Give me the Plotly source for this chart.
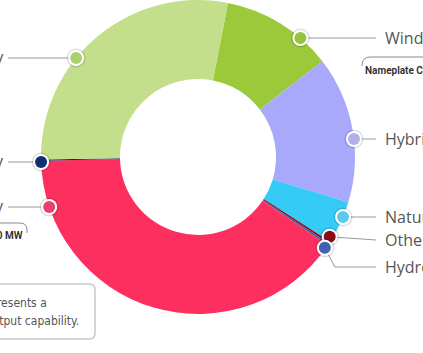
import math
import plotly.graph_objects as go

# ---- data ----
categories = ["Wind", "Hybrid", "Natural Gas", "Other", "Hydro", "Solar Energy", "Bioenergy", "Battery"]
shares = [11.5, 15.1, 4.4, 0.22, 0.22, 40.1, 0.14, 28.3]
slice_colors = ["#9cc93a", "#a9a9fb", "#35cbf6", "#8a0c14", "#3c5faa", "#fd2f5f", "#0b2d66", "#c3df8c"]
dot_colors = ["#92c440", "#b2b0e6", "#5cc9ee", "#8a0c14", "#3f63b2", "#e8416f", "#0d3070", "#a9d16c"]
label_side = ["R", "R", "R", "R", "R", "L", "L", "L"]
label_rows = [38, 139, 217, 240, 267, 207, 162, 58]

W, H = 423, 353
CX, CY, R = 198, 157, 157
ROT = 11

LABEL_FONT = dict(family="Open Sans", size=16, color="#555555")
NARROW = "DejaVu Sans Condensed, sans-serif"

fig = go.Figure()
fig.add_trace(go.Pie(
    labels=categories, values=shares, sort=False, direction="clockwise",
    rotation=ROT, hole=0.497, textinfo="none", hoverinfo="label+percent",
    marker=dict(colors=slice_colors, line=dict(width=0)),
    domain=dict(x=[(CX - R) / W, (CX + R) / W], y=[(H - CY - R) / H, (H - CY + R) / H]),
    showlegend=False,
))

# invisible overlay axes in pixel units
fig.add_trace(go.Scatter(x=[0, W], y=[0, H], mode="markers", marker=dict(opacity=0),
                         hoverinfo="skip", showlegend=False))

total = sum(shares)
cum = 0
shapes = []
annotations = []
LINE = dict(color="#9a9a9a", width=1)
for i, cat in enumerate(categories):
    a0 = ROT + cum / total * 360
    cum += shares[i]
    a1 = ROT + cum / total * 360
    mid = (a0 + a1) / 2
    row = label_rows[i]
    if cat in ("Other", "Hydro"):
        ang = mid + (-1.8 if cat == "Other" else 1.8)
        rr = R - 3 if cat == "Other" else R - 1
        dx = CX + rr * math.sin(math.radians(ang))
        dy = CY - rr * math.cos(math.radians(ang))
    else:
        off = math.sqrt(max(R * R - (row - CY) ** 2, 0))
        dx = CX + off if label_side[i] == "R" else CX - off
        dy = row
    # leader line
    if label_side[i] == "R":
        if cat == "Hydro":
            shapes.append(dict(type="path", xref="x", yref="y",
                               path=f"M{dx},{dy} L{dx + 10},{row} L376,{row}", line=LINE))
        else:
            shapes.append(dict(type="line", xref="x", yref="y", x0=dx, y0=dy, x1=376, y1=row, line=LINE))
        annotations.append(dict(x=383, y=row, xref="x", yref="y", text=cat, showarrow=False,
                                xanchor="left", yanchor="middle", font=LABEL_FONT))
    else:
        shapes.append(dict(type="line", xref="x", yref="y", x0=8, y0=row, x1=dx, y1=dy, line=LINE))
        annotations.append(dict(x=6, y=row - 1, xref="x", yref="y", text=cat, showarrow=False,
                                xanchor="right", yanchor="middle", font=LABEL_FONT))
    # dot: shadow, white ring, colour
    for rad, col in ((9.5, "rgba(0,0,0,0.13)"), (8, "white"), (6, dot_colors[i])):
        shapes.append(dict(type="circle", xref="x", yref="y", x0=dx - rad, x1=dx + rad,
                           y0=dy - rad, y1=dy + rad, fillcolor=col, line=dict(width=0)))

# small boxes / notes
BOX = dict(color="#8a8a8a", width=1)
shapes.append(dict(type="path", xref="x", yref="y", path="M362,66 Q362,57 370,57 L440,57", line=BOX))
annotations.append(dict(x=363, y=70, xref="x", yref="y", text="Nameplate Capacity", showarrow=False,
                        xanchor="left", yanchor="middle",
                        font=dict(family="Roboto", size=10, weight=600, color="#2a2a2a")))
shapes.append(dict(type="path", xref="x", yref="y", path="M-10,223 L20,223 Q27,223 27,230 L27,233", line=BOX))
annotations.append(dict(x=25, y=236, xref="x", yref="y", text="Total: 10,000 MW", showarrow=False,
                        xanchor="right", yanchor="middle",
                        font=dict(family="Roboto", size=10, weight=600, color="#2a2a2a")))
shapes.append(dict(type="path", xref="x", yref="y",
                   path="M-10,284 L89,284 Q95,284 95,290 L95,333 Q95,339 89,339 L-10,339",
                   line=dict(color="#c8c8c8", width=1.5)))
annotations.append(dict(x=49, y=303, xref="x", yref="y", text="Each slice represents a", showarrow=False,
                        xanchor="right", yanchor="middle",
                        font=dict(family=NARROW, size=12, color="#555555")))
annotations.append(dict(x=81, y=321, xref="x", yref="y", text="maximum output capability.", showarrow=False,
                        xanchor="right", yanchor="middle",
                        font=dict(family=NARROW, size=12, color="#555555")))

fig.update_layout(
    width=W, height=H, margin=dict(l=0, r=0, t=0, b=0),
    paper_bgcolor="white", plot_bgcolor="rgba(0,0,0,0)",
    xaxis=dict(range=[0, W], visible=False, fixedrange=True),
    yaxis=dict(range=[H, 0], visible=False, fixedrange=True),
    shapes=shapes, annotations=annotations, showlegend=False,
)
fig.write_html("out.html")
